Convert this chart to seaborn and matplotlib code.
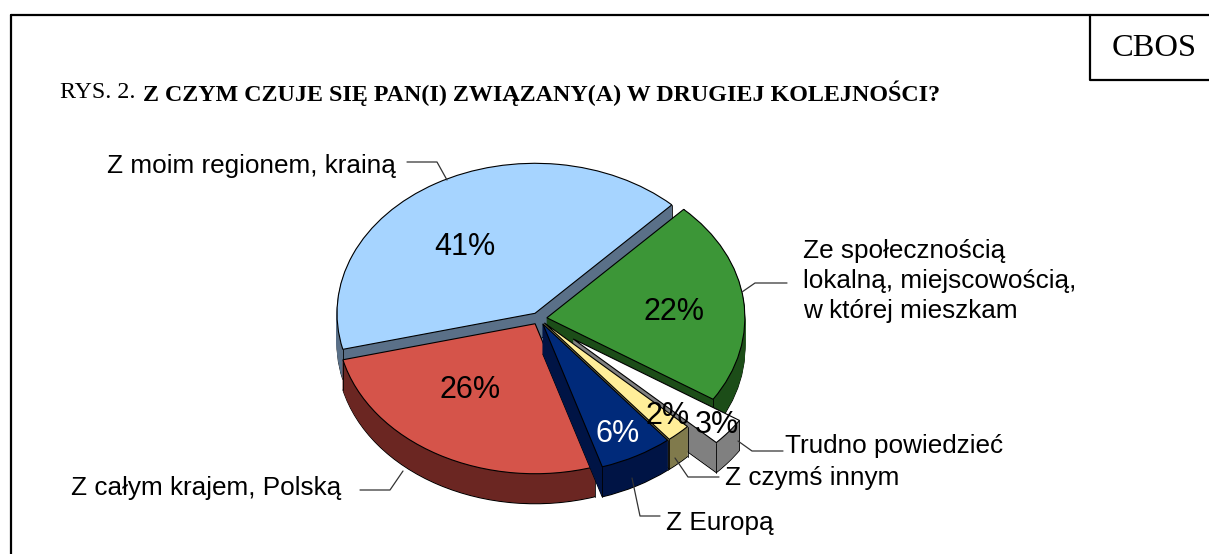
import numpy as np
import seaborn as sns
import matplotlib.pyplot as plt

# values (order: counter-clockwise from upper right)
names = ["Z moim regionem, krainą", "Z całym krajem, Polską", "Z Europą",
         "Z czymś innym", "Trudno powiedzieć",
         "Ze społecznością\nlokalną, miejscowością,\nw której mieszkam"]
shares = [41, 26, 6, 2, 3, 22]
pulled = [0.04, 0.04, 0.04, 0.04, 0.22, 0.04]
top_colors = ["#A6D4FF", "#D5544A", "#002A7A", "#FFEE99", "#FFFFFF", "#3C9637"]
wall_colors = ["#5A7088", "#6B2622", "#001445", "#807A4C", "#808080", "#1C4D18"]
draw_order = [0, 5, 4, 3, 1, 2]  # back to front

sns.set_theme(style="white")
plt.rcParams["font.family"] = ["Liberation Sans", "DejaVu Sans"]

W, H = 1209, 554
cx, cy, rx, ry = 539, 318.5, 198, 150
depth_px = 30

fig = plt.figure(figsize=(W / 100, H / 100), dpi=100)
ax = fig.add_axes([0, 0, 1, 1])


def draw_layer(drop, colors, edge, lw, z_extra):
    wedges, _ = ax.pie(shares, colors=colors, explode=pulled, startangle=46.3,
                       center=(0, -drop), radius=1,
                       wedgeprops=dict(linewidth=lw))
    for i, w in enumerate(wedges):
        w.set_zorder(10 * draw_order.index(i) + z_extra)
        w.set_edgecolor(edge if edge else w.get_facecolor())
    return wedges


# ---------------------------
# 3D LOOK: stacked pies for the walls
# ---------------------------
depth = depth_px / ry
draw_layer(depth, wall_colors, "black", 0.8, 0)
for k in range(1, depth_px):
    draw_layer(depth * (1 - k / depth_px), wall_colors, None, 0.6, k / 100)
top = draw_layer(0, top_colors, "black", 0.8, 5)

# corner lines on the walls
for i, w in enumerate(top):
    for a in (w.theta1, w.theta2):
        x = w.center[0] + np.cos(np.radians(a))
        y = w.center[1] + np.sin(np.radians(a))
        ax.plot([x, x], [y, y - depth], color="black", lw=0.6,
                zorder=10 * draw_order.index(i) + 4)

ax.set_aspect("auto")
ax.set_xlim(-cx / rx, (W - cx) / rx)
ax.set_ylim((cy - H) / ry, cy / ry)

# ---------------------------
# TEXT + FRAME (pixel coordinates)
# ---------------------------
ov = fig.add_axes([0, 0, 1, 1])
ov.set_xlim(0, W)
ov.set_ylim(H, 0)
ov.axis("off")
ov.patch.set_alpha(0)

ov.plot([11, 11], [H, 15], color="black", lw=1.6)
ov.plot([11, W], [15, 15], color="black", lw=1.6)
ov.plot([1090, 1090, W], [15, 80, 80], color="black", lw=1.6)

serif = ["Liberation Serif", "DejaVu Serif"]
ov.text(1154, 48, "CBOS", family=serif, fontsize=23.4, ha="center", va="center", color="black")
ov.text(60, 93, "RYS. 2.", family=serif, fontsize=17.3, ha="left", va="center", color="black")
ov.text(143, 93, "Z CZYM CZUJE SIĘ PAN(I) ZWIĄZANY(A) W DRUGIEJ KOLEJNOŚCI?",
        family=serif, fontsize=17.3, weight="bold", ha="left", va="center", color="black")

label_pos = [(107, 166), (71, 488), (666, 523), (725, 478), (785, 446), (803, 281)]
for name, (x, y) in zip(names, label_pos):
    ov.text(x, y, name, fontsize=18.8, ha="left", va="center", color="black", linespacing=1.3)

pct_pos = [(465, 247), (470, 390), (618, 434), (668, 416), (717, 425), (674, 312)]
pct_colors = ["black", "black", "white", "black", "black", "black"]
for v, (x, y), c in zip(shares, pct_pos, pct_colors):
    ov.text(x, y, f"{v}%", fontsize=22, ha="center", va="center", color=c)

leaders = [([407, 437, 447], [162, 162, 180]),
           ([360, 390, 403], [490, 490, 471]),
           ([632, 640, 660], [478, 516, 516]),
           ([675, 688, 719], [458, 477, 477]),
           ([738, 752, 783], [441, 451, 451]),
           ([787, 755, 742], [283, 283, 292])]
for xs, ys in leaders:
    ov.plot(xs, ys, color="#333333", lw=0.9)

fig.savefig("out.png", dpi=100)
